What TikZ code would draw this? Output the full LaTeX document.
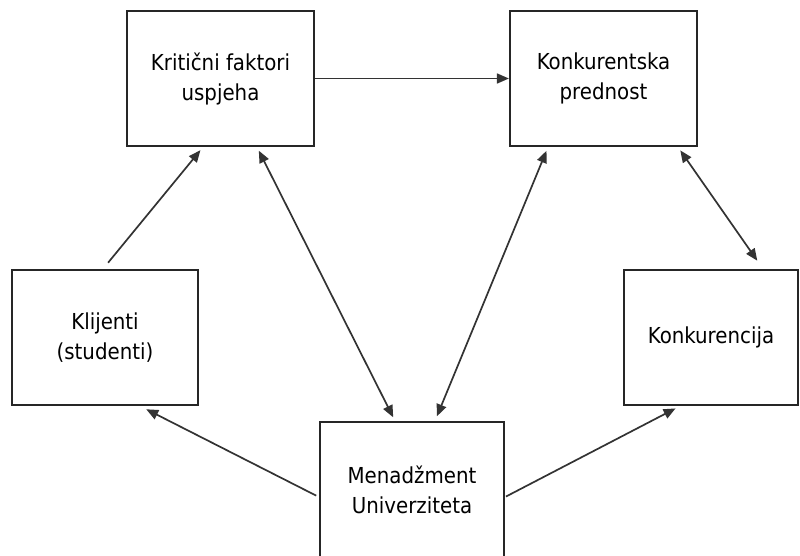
\documentclass[tikz,border=0pt]{standalone}
\usepackage{fontspec}
\setmainfont{DejaVu Sans Condensed}
\usetikzlibrary{arrows.meta}

\begin{document}
\begin{tikzpicture}[x=1pt,y=-1pt,
    box/.style={draw=black!85,line width=2.2pt,minimum height=135pt,align=center,
        inner sep=0pt,font=\fontsize{22}{30}\selectfont},
    arr/.style={draw=black!80,line width=1.7pt,-{Triangle[length=12pt,width=10pt]}},
    darr/.style={arr,{Triangle[length=12pt,width=10pt]}-{Triangle[length=12pt,width=10pt]}}]
    \useasboundingbox (0,0) rectangle (800,555);
    \node[box,minimum width=187pt] (kfu)  at (220.5,78.5) {Kritični faktori\\uspjeha};
    \node[box,minimum width=187pt] (kp)   at (603.5,78.5) {Konkurentska\\prednost};
    \node[box,minimum width=186pt] (klij) at (105,337.5)  {Klijenti\\(studenti)};
    \node[box,minimum width=174pt] (konk) at (711,337.5)  {Konkurencija};
    \node[box,minimum width=184pt] (men)  at (412,489.5)  {Menadžment\\Univerziteta};
    % top row
    \draw[arr] (kfu) -- (kp);
    \draw[arr,shorten <=8pt,shorten >=4pt] ([xshift=-2pt]klij.north) -- ([xshift=-17.5pt]kfu.south);
    % to and from the management
    \draw[darr,shorten <=4pt,shorten >=4pt] ([xshift=36.5pt]kfu.south) -- ([xshift=-17pt]men.north);
    \draw[darr,shorten <=4pt,shorten >=5pt] ([xshift=-55.5pt]kp.south) -- ([xshift=23pt]men.north);
    \draw[darr,shorten <=4pt,shorten >=10pt] ([xshift=74.5pt]kp.south) -- ([xshift=52pt]konk.north);
    \draw[arr,shorten <=3pt,shorten >=7pt] ([yshift=-7.5pt]men.west) -- ([xshift=35pt]klij.south);
    \draw[arr,shorten <=1pt,shorten >=5pt] ([yshift=-7.5pt]men.east) -- ([xshift=-31pt]konk.south);
\end{tikzpicture}
\end{document}
